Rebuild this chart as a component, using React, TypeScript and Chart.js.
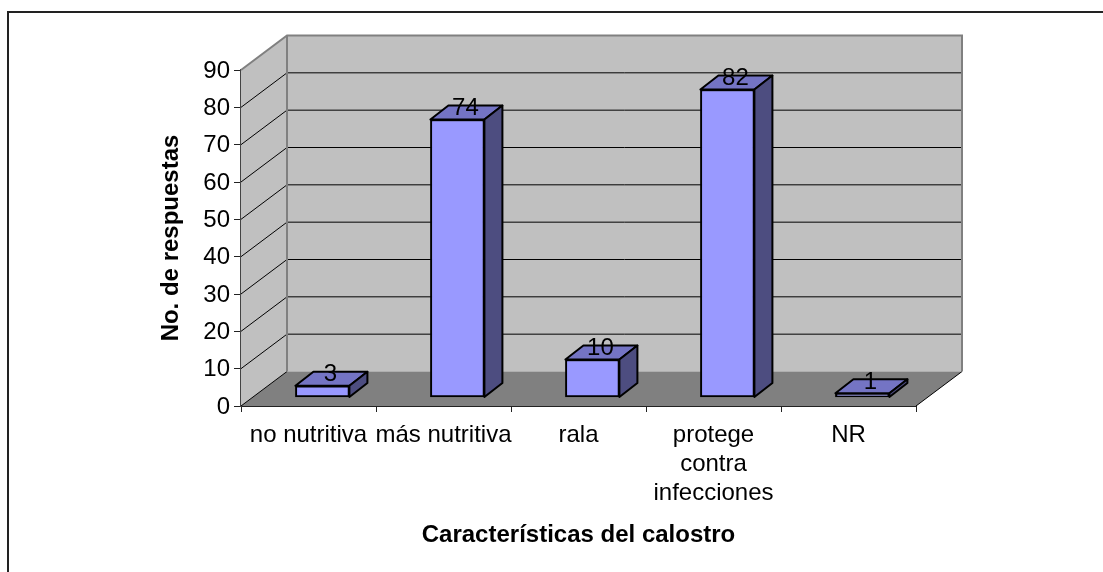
import React, { useEffect, useRef } from "react";
import { Chart, registerables } from "chart.js";

Chart.register(...registerables);

const categories: (string | string[])[] = ["no nutritiva", "más nutritiva", "rala", ["protege", "contra", "infecciones"], "NR"];
const responses = [3, 74, 10, 82, 1];
const yTicks = [0, 10, 20, 30, 40, 50, 60, 70, 80, 90];
const xTitle = "Características del calostro";
const yTitle = "No. de respuestas";

const FONT = "'Liberation Sans', Arial, sans-serif";
const WALL_DX = 46;
const WALL_DY = -34.5;
const BAR_DX = 18;
const BAR_DY = -14;

const scene3d = {
  id: "scene3d",
  beforeDraw(chart: any) {
    const { ctx } = chart;
    ctx.save();
    ctx.fillStyle = "#ffffff";
    ctx.fillRect(0, 0, chart.width, chart.height);
    ctx.strokeStyle = "#222222";
    ctx.lineWidth = 2;
    ctx.beginPath();
    ctx.moveTo(8, 600);
    ctx.lineTo(8, 12);
    ctx.lineTo(chart.width + 5, 12);
    ctx.stroke();
    ctx.restore();
  },
  beforeDatasetsDraw(chart: any) {
    const { ctx, scales } = chart;
    const y = scales.y;
    const x = scales.x;
    const l = x.left;
    const r = x.right;
    const y0 = y.getPixelForValue(0);
    const yMax = y.getPixelForValue(90);
    const poly = (pts: number[][], fill: string) => {
      ctx.beginPath();
      pts.forEach((p, i) => (i ? ctx.lineTo(p[0], p[1]) : ctx.moveTo(p[0], p[1])));
      ctx.closePath();
      ctx.fillStyle = fill;
      ctx.fill();
    };
    ctx.save();
    poly([[l, y0], [l + WALL_DX, y0 + WALL_DY], [l + WALL_DX, yMax + WALL_DY], [l, yMax]], "#c0c0c0");
    poly([[l + WALL_DX, y0 + WALL_DY], [r + WALL_DX, y0 + WALL_DY], [r + WALL_DX, yMax + WALL_DY], [l + WALL_DX, yMax + WALL_DY]], "#c0c0c0");
    poly([[l, y0], [l + WALL_DX, y0 + WALL_DY], [r + WALL_DX, y0 + WALL_DY], [r, y0]], "#808080");

    ctx.strokeStyle = "#000000";
    ctx.lineWidth = 1;
    yTicks.forEach((v) => {
      if (v === 90) return;
      const p = y.getPixelForValue(v);
      ctx.beginPath();
      ctx.moveTo(l, p);
      ctx.lineTo(l + WALL_DX, p + WALL_DY);
      if (v !== 0) ctx.lineTo(r + WALL_DX, p + WALL_DY);
      ctx.stroke();
    });
    ctx.beginPath();
    ctx.moveTo(r, y0);
    ctx.lineTo(r + WALL_DX, y0 + WALL_DY);
    ctx.stroke();

    ctx.strokeStyle = "#808080";
    ctx.lineWidth = 2;
    ctx.beginPath();
    ctx.moveTo(l, yMax);
    ctx.lineTo(l + WALL_DX, yMax + WALL_DY);
    ctx.lineTo(r + WALL_DX, yMax + WALL_DY);
    ctx.lineTo(r + WALL_DX, y0 + WALL_DY);
    ctx.moveTo(l + WALL_DX, yMax + WALL_DY);
    ctx.lineTo(l + WALL_DX, y0 + WALL_DY);
    ctx.stroke();
    ctx.restore();
  },
  afterDatasetsDraw(chart: any) {
    const { ctx } = chart;
    const bars = chart.getDatasetMeta(0).data;
    ctx.save();
    ctx.strokeStyle = "#000000";
    ctx.lineWidth = 2;
    ctx.lineJoin = "round";
    const face = (pts: number[][], fill: string) => {
      ctx.beginPath();
      pts.forEach((p, i) => (i ? ctx.lineTo(p[0], p[1]) : ctx.moveTo(p[0], p[1])));
      ctx.closePath();
      ctx.fillStyle = fill;
      ctx.fill();
      ctx.stroke();
    };
    bars.forEach((bar: any) => {
      const a = bar.x - bar.width / 2;
      const b = bar.x + bar.width / 2;
      face([[a, bar.y], [a + BAR_DX, bar.y + BAR_DY], [b + BAR_DX, bar.y + BAR_DY], [b, bar.y]], "#7474c4");
      face([[b, bar.y], [b + BAR_DX, bar.y + BAR_DY], [b + BAR_DX, bar.base + BAR_DY], [b, bar.base]], "#4d4d80");
    });
    ctx.fillStyle = "#000000";
    ctx.font = `24px ${FONT}`;
    ctx.textAlign = "center";
    ctx.textBaseline = "middle";
    bars.forEach((bar: any, i: number) => {
      ctx.fillText(String(responses[i]), bar.x + 8, bar.y - 11);
    });
    ctx.restore();
  },
};

export default function App() {
  const ref = useRef<HTMLCanvasElement>(null);
  useEffect(() => {
    document.body.style.margin = "0";
    const chart = new Chart(ref.current!, {
      type: "bar",
      data: {
        labels: categories as any,
        datasets: [
          {
            label: "Respuestas",
            data: responses.map((v, i) => ({ x: i, y: v })) as any,
            backgroundColor: "#9999ff",
            borderColor: "#000000",
            borderWidth: 2,
            borderSkipped: false,
            barThickness: 54,
            xAxisID: "barX",
            yAxisID: "barY",
          },
        ],
      },
      options: {
        responsive: false,
        animation: false,
        layout: {
          autoPadding: false,
          padding: { left: 157, top: 70, right: 187, bottom: 22.6 },
        },
        plugins: { legend: { display: false }, tooltip: { enabled: false } },
        scales: {
          x: {
            type: "category",
            position: "bottom",
            afterFit: (s: any) => { s.height = 143.4; },
            grid: { drawOnChartArea: false, color: "#222222", tickLength: 6, offset: true },
            border: { color: "#222222", width: 2 },
            offset: true,
            ticks: { color: "#000", font: { family: FONT, size: 24 }, maxRotation: 0, autoSkip: false, padding: 9 },
            title: { display: true, text: xTitle, color: "#000", font: { family: FONT, size: 24, weight: "bold" }, padding: 0 },
          },
          y: {
            type: "linear",
            position: "left",
            min: 0,
            max: 90,
            afterFit: (s: any) => { s.width = 84; },
            afterBuildTicks: (s: any) => { s.ticks = yTicks.map((value) => ({ value })); },
            grid: { drawOnChartArea: false, color: "#222222", tickLength: 7 },
            border: { color: "#444444", width: 2 },
            ticks: { color: "#000", font: { family: FONT, size: 24 }, padding: 4, labelOffset: 1 },
            title: { display: true, text: yTitle, color: "#000", font: { family: FONT, size: 24, weight: "bold" }, padding: 0 },
          },
          barX: { type: "linear", display: false, offset: false, min: -0.603, max: 4.397 },
          barY: { type: "linear", display: false, min: -2.4, max: 87.2 },
        },
      },
      plugins: [scene3d],
    } as any);
    return () => chart.destroy();
  }, []);
  return <canvas ref={ref} width={1103} height={572} style={{ display: "block" }} />;
}
